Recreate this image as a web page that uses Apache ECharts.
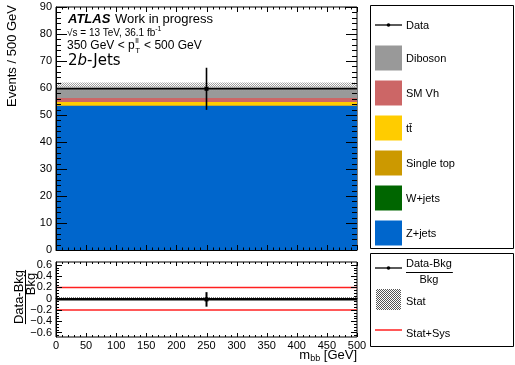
<!DOCTYPE html>
<html>
<head>
<meta charset="utf-8">
<script src="https://cdn.jsdelivr.net/npm/echarts@6/dist/echarts.min.js"></script>
<style>
html,body{margin:0;padding:0;background:#fff;}
#chart{width:515px;height:365px;}
</style>
</head>
<body>
<div id="chart"></div>
<script>
// ---- data ----
const binEdges = [0, 500];
const processNames = ['Z+jets', 'W+jets', 'Single top', 'tt\u0304', 'SM Vh', 'Diboson'];
const zjets = [53.3];
const wjets = [0.1];
const singletop = [0.3];
const ttbar = [1.1];
const smvh = [1.5];
const diboson = [4.2];
const dataVals = [59.7];
const dataErr = [7.8];
const statErr = [1.5];
const statSysRel = [0.2];
const xTicks = [0, 50, 100, 150, 200, 250, 300, 350, 400, 450, 500];
const yTicksMain = [0, 10, 20, 30, 40, 50, 60, 70, 80, 90];
const yTicksRatio = [-0.6, -0.4, -0.2, 0, 0.2, 0.4, 0.6];

const colors = ['#0066cc', '#006600', '#cc9900', '#ffcc00', '#cc6666', '#999999'];
const stacks = [zjets, wjets, singletop, ttbar, smvh, diboson];
const FONT = 'Liberation Sans';

function makeHatch(col) {
  const pc = document.createElement('canvas');
  pc.width = 2; pc.height = 2;
  const c = pc.getContext('2d');
  c.fillStyle = col;
  c.fillRect(0, 0, 1, 1);
  c.fillRect(1, 1, 1, 1);
  return { image: pc, repeat: 'repeat' };
}
const hatchUp = makeHatch('#a0a0a0');
const hatchRatio = makeHatch('#555555');

const mc = document.createElement('canvas').getContext('2d');
function tw(t, size, weight, style, fam) {
  mc.font = (style || 'normal') + ' ' + (weight || 'normal') + ' ' + size + 'px "' + (fam || FONT) + '"';
  return mc.measureText(t).width;
}

// cumulative stacks
const nb = binEdges.length - 1;
const total = new Array(nb).fill(0);
const stackData = stacks.map(arr => arr.map((v, i) => {
  const base = total[i];
  total[i] += v;
  return [binEdges[i], binEdges[i + 1], base, total[i]];
}));

function rectItem(color) {
  return function (params, api) {
    const p1 = api.coord([api.value(0), api.value(3)]);
    const p2 = api.coord([api.value(1), api.value(2)]);
    return { type: 'rect', shape: { x: p1[0], y: p1[1], width: p2[0] - p1[0], height: p2[1] - p1[1] }, style: { fill: color } };
  };
}

const series = [];
stackData.forEach((d, k) => {
  series.push({ type: 'custom', xAxisIndex: 0, yAxisIndex: 0, data: d, renderItem: rectItem(colors[k]), clip: true, silent: true, z: 1 });
});
series.push({
  type: 'custom', xAxisIndex: 0, yAxisIndex: 0, clip: true, silent: true, z: 1,
  data: total.map((t, i) => [binEdges[i], binEdges[i + 1], t - statErr[i], t + statErr[i]]),
  renderItem: rectItem(hatchUp)
});
function dataItem(lw, ms) {
  return function (params, api) {
    const xl = api.coord([api.value(0), api.value(3)]);
    const xr = api.coord([api.value(1), api.value(3)]);
    const xc = api.coord([api.value(2), api.value(3)]);
    const lo = api.coord([api.value(2), api.value(3) - api.value(4)]);
    const hi = api.coord([api.value(2), api.value(3) + api.value(4)]);
    return { type: 'group', children: [
      { type: 'line', shape: { x1: xl[0], y1: xl[1], x2: xr[0], y2: xr[1] }, style: { stroke: '#000', lineWidth: lw } },
      { type: 'line', shape: { x1: lo[0], y1: lo[1], x2: hi[0], y2: hi[1] }, style: { stroke: '#000', lineWidth: lw } },
      { type: 'rect', shape: { x: xc[0] - ms / 2, y: xc[1] - ms / 2, width: ms, height: ms }, style: { fill: '#000' } }
    ] };
  };
}
series.push({
  type: 'custom', xAxisIndex: 0, yAxisIndex: 0, clip: true, silent: true, z: 3,
  data: dataVals.map((v, i) => [binEdges[i], binEdges[i + 1], (binEdges[i] + binEdges[i + 1]) / 2, v, dataErr[i]]),
  renderItem: dataItem(1.6, 4)
});
series.push({
  type: 'custom', xAxisIndex: 1, yAxisIndex: 1, clip: true, silent: true, z: 1,
  data: total.map((t, i) => [binEdges[i], binEdges[i + 1], -statErr[i] / t, statErr[i] / t]),
  renderItem: rectItem(hatchRatio)
});
series.push({
  type: 'custom', xAxisIndex: 1, yAxisIndex: 1, clip: true, silent: true, z: 2,
  data: statSysRel.map((s, i) => [binEdges[i], binEdges[i + 1], s]),
  renderItem: function (params, api) {
    const a = api.coord([api.value(0), api.value(2)]);
    const b = api.coord([api.value(1), api.value(2)]);
    const c = api.coord([api.value(0), -api.value(2)]);
    const d = api.coord([api.value(1), -api.value(2)]);
    return { type: 'group', children: [
      { type: 'line', shape: { x1: a[0], y1: a[1], x2: b[0], y2: b[1] }, style: { stroke: '#ff2020', lineWidth: 1.5 } },
      { type: 'line', shape: { x1: c[0], y1: c[1], x2: d[0], y2: d[1] }, style: { stroke: '#ff2020', lineWidth: 1.5 } }
    ] };
  }
});
series.push({
  type: 'custom', xAxisIndex: 1, yAxisIndex: 1, clip: true, silent: true, z: 3,
  data: dataVals.map((v, i) => [binEdges[i], binEdges[i + 1], (binEdges[i] + binEdges[i + 1]) / 2, (v - total[i]) / total[i], dataErr[i] / total[i]]),
  renderItem: dataItem(2, 4)
});

// ---- inward ROOT-style ticks, placed through the axes' scales ----
function minorsOf(major, n) {
  const out = [];
  for (let i = 0; i < major.length - 1; i++) {
    const step = (major[i + 1] - major[i]) / n;
    for (let k = 1; k < n; k++) out.push(Math.round((major[i] + k * step) * 1e6) / 1e6);
  }
  return out;
}
const RMIN = -0.68, RMAX = 0.65;
const ratioMinor = minorsOf([-0.8].concat(yTicksRatio, [0.8]), 4).filter(v => v > RMIN && v < RMAX);
function tickSeries(xi, yi, xMaj, xMin, yMaj, yMin, lens) {
  const data = [];
  xMaj.forEach(v => data.push([0, v, 1]));
  xMin.forEach(v => data.push([0, v, 0]));
  yMaj.forEach(v => data.push([1, v, 1]));
  yMin.forEach(v => data.push([1, v, 0]));
  return {
    type: 'custom', xAxisIndex: xi, yAxisIndex: yi, clip: false, silent: true, z: 6,
    data: data,
    renderItem: function (params, api) {
      const cs = params.coordSys;
      const isY = api.value(0) === 1, v = api.value(1), major = api.value(2) === 1;
      const st = { stroke: '#000', lineWidth: 1 };
      if (!isY) {
        const L = major ? lens.xMaj : lens.xMin;
        const px = Math.round(api.coord([v, 0])[0]) + 0.5;
        const b = cs.y + cs.height, t = cs.y;
        return { type: 'group', children: [
          { type: 'line', shape: { x1: px, y1: b, x2: px, y2: b - L }, style: st },
          { type: 'line', shape: { x1: px, y1: t, x2: px, y2: t + L }, style: st }
        ] };
      }
      const L = major ? lens.yMaj : lens.yMin;
      const py = Math.round(api.coord([0, v])[1]) + 0.5;
      const l = cs.x, r = cs.x + cs.width;
      return { type: 'group', children: [
        { type: 'line', shape: { x1: l, y1: py, x2: l + L, y2: py }, style: st },
        { type: 'line', shape: { x1: r, y1: py, x2: r - L, y2: py }, style: st }
      ] };
    }
  };
}
const xMinor = minorsOf(xTicks, 5);
series.push(tickSeries(0, 0, xTicks, xMinor, yTicksMain, minorsOf(yTicksMain, 5), { xMaj: 5, xMin: 2.5, yMaj: 11, yMin: 5 }));
series.push(tickSeries(1, 1, xTicks, xMinor, yTicksRatio, ratioMinor, { xMaj: 4, xMin: 2, yMaj: 6, yMin: 3 }));

const axLine = { show: true, lineStyle: { color: '#000', width: 1 } };
const lbl = { fontFamily: FONT, fontSize: 11, color: '#000' };
function xAx(grid, labels) {
  return {
    type: 'value', gridIndex: grid, position: 'bottom', min: 0, max: 500, interval: 50, z: 10,
    axisLine: axLine, splitLine: { show: false }, axisTick: { show: false }, minorTick: { show: false },
    axisLabel: labels ? Object.assign({ show: true, margin: 3, formatter: v => String(v) }, lbl) : { show: false }
  };
}
const fmtR = v => (Math.abs(v) < 1e-9 ? '0' : (v < 0 ? '\u2212' + String(Math.abs(v)) : String(v)));
const grids = [
  { left: 56, top: 7, width: 301, height: 243, show: true, borderColor: '#000', borderWidth: 1, backgroundColor: 'transparent' },
  { left: 56, top: 262, width: 301, height: 75, show: true, borderColor: '#000', borderWidth: 1, backgroundColor: 'transparent' }
];

const graphics = [];
function txt(x, y, text, opt) {
  graphics.push(Object.assign({ type: 'text', x: x, y: y, z: 100, style: Object.assign({ text: text, fill: '#000', font: '11px "' + FONT + '"', verticalAlign: 'middle' }, opt || {}) }));
}
// annotations
txt(68, 19, 'ATLAS', { font: 'italic bold 13px "' + FONT + '"' });
txt(115, 19, 'Work in progress', { font: '13px "' + FONT + '"' });
txt(67, 33, '\u221As = 13 TeV, 36.1 fb', { font: '10px "' + FONT + '"' });
txt(67 + tw('\u221As = 13 TeV, 36.1 fb', 10), 29, '-1', { font: '7px "' + FONT + '"' });
const pw = tw('350 GeV < p', 12);
txt(67, 46, '350 GeV < p', { font: '12px "' + FONT + '"' });
txt(67 + pw + 0.5, 41, 'll', { font: '8px "' + FONT + '"' });
txt(67 + pw + 0.5, 51, 'T', { font: '8px "' + FONT + '"' });
txt(67 + pw + 6, 46, ' < 500 GeV', { font: '12px "' + FONT + '"' });
const w2 = tw('2', 15, 'normal', 'normal', 'DejaVu Sans');
const wb = tw('b', 15, 'normal', 'italic', 'DejaVu Sans');
txt(68, 61, '2', { font: '15px "DejaVu Sans"' });
txt(68 + w2, 61, 'b', { font: 'italic 15px "DejaVu Sans"' });
txt(68 + w2 + wb, 61, '-Jets', { font: '15px "DejaVu Sans"' });

// axis titles
graphics.push({ type: 'text', x: 12, y: 5, rotation: Math.PI / 2, style: { text: 'Events / 500 GeV', fill: '#000', font: '13px "' + FONT + '"', align: 'right', verticalAlign: 'middle' } });
const fw = tw('Data-Bkg', 13);
graphics.push({ type: 'text', x: 19, y: 297, rotation: Math.PI / 2, style: { text: 'Data-Bkg', fill: '#000', font: '13px "' + FONT + '"', align: 'center', verticalAlign: 'middle' } });
graphics.push({ type: 'line', shape: { x1: 25.5, y1: 297 - fw / 2, x2: 25.5, y2: 297 + fw / 2 }, style: { stroke: '#000', lineWidth: 1 } });
graphics.push({ type: 'text', x: 31.5, y: 284, rotation: Math.PI / 2, style: { text: 'Bkg', fill: '#000', font: '13px "' + FONT + '"', align: 'center', verticalAlign: 'middle' } });
const gw = tw(' [GeV]', 13);
const bbw = tw('bb', 9);
txt(357 - gw, 355, ' [GeV]', { font: '13px "' + FONT + '"' });
txt(357 - gw - bbw, 359, 'bb', { font: '9px "' + FONT + '"' });
txt(357 - gw - bbw - tw('m', 13), 355, 'm', { font: '13px "' + FONT + '"' });

// legend boxes
graphics.push({ type: 'rect', shape: { x: 370.5, y: 5.5, width: 143, height: 243 }, style: { fill: '#fff', stroke: '#000', lineWidth: 1 } });
graphics.push({ type: 'rect', shape: { x: 370.5, y: 253.5, width: 143, height: 93 }, style: { fill: '#fff', stroke: '#000', lineWidth: 1 } });
graphics.push({ type: 'line', z: 100, shape: { x1: 375, y1: 25, x2: 402, y2: 25 }, style: { stroke: '#000', lineWidth: 1.3 } });
graphics.push({ type: 'circle', z: 100, shape: { cx: 388.5, cy: 25, r: 1.8 }, style: { fill: '#000' } });
txt(406, 26, 'Data');
const legOrder = [5, 4, 3, 2, 1, 0];
legOrder.forEach((k, j) => {
  const cy = 58 + j * 35;
  graphics.push({ type: 'rect', z: 100, shape: { x: 375, y: cy - 12.5, width: 27, height: 25 }, style: { fill: colors[k] } });
  txt(406, cy + 1, processNames[k]);
});
graphics.push({ type: 'line', z: 100, shape: { x1: 375, y1: 268, x2: 402, y2: 268 }, style: { stroke: '#000', lineWidth: 1.3 } });
graphics.push({ type: 'circle', z: 100, shape: { cx: 388.5, cy: 268, r: 1.8 }, style: { fill: '#000' } });
const dbw = tw('Data-Bkg', 11);
txt(406, 264, 'Data-Bkg');
graphics.push({ type: 'line', z: 100, shape: { x1: 406, y1: 272.5, x2: 406 + dbw + 1, y2: 272.5 }, style: { stroke: '#000', lineWidth: 1 } });
txt(406 + dbw / 2, 280, 'Bkg', { align: 'center' });
graphics.push({ type: 'rect', z: 100, shape: { x: 376, y: 289, width: 25, height: 21 }, style: { fill: hatchRatio } });
txt(406, 302, 'Stat');
graphics.push({ type: 'line', z: 100, shape: { x1: 375, y1: 330, x2: 402, y2: 330 }, style: { stroke: '#ff2020', lineWidth: 1.5 } });
txt(406, 334, 'Stat+Sys');

const chart = echarts.init(document.getElementById('chart'), null, { renderer: 'canvas' });
chart.setOption({
  animation: false,
  backgroundColor: '#fff',
  grid: grids,
  xAxis: [xAx(0, false), xAx(1, true)],
  yAxis: [
    { type: 'value', gridIndex: 0, position: 'left', min: 0, max: 90, interval: 10, z: 10,
      axisLine: axLine, splitLine: { show: false }, axisTick: { show: false }, minorTick: { show: false },
      axisLabel: Object.assign({ show: true, margin: 4 }, lbl) },
    { type: 'value', gridIndex: 1, position: 'left', min: RMIN, max: RMAX, z: 10,
      axisLine: axLine, splitLine: { show: false }, axisTick: { show: false }, minorTick: { show: false },
      axisLabel: Object.assign({ show: true, margin: 4, customValues: yTicksRatio, formatter: fmtR }, lbl) }
  ],
  series: series,
  graphic: graphics
});
</script>
</body>
</html>
